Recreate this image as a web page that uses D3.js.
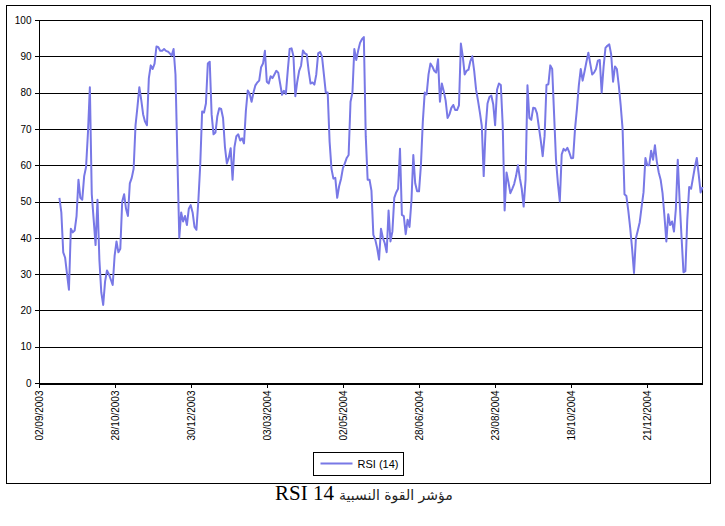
<!DOCTYPE html>
<html>
<head>
<meta charset="utf-8">
<script src="https://cdn.jsdelivr.net/npm/d3@7"></script>
<style>
  body { margin: 0; background: #fff; }
  svg { display: block; }
  .axis text { font-family: "Liberation Sans", Arial, sans-serif; font-size: 10px; fill: #000; }
  .axis path, .axis line { stroke: #000; shape-rendering: crispEdges; }
</style>
</head>
<body>
<div id="chart"></div>
<script>
// tick labels on the date axis, one every 40 trading days
const tickLabels = ["02/09/2003", "28/10/2003", "30/12/2003", "03/03/2004", "02/05/2004",
                    "28/06/2004", "23/08/2004", "18/10/2004", "21/12/2004"];
const labelStep = 40;
const dayCount = 350;      // trading days on the axis
const firstRsiDay = 11;    // RSI starts after the warm-up days

// RSI (14) values, one per trading day from firstRsiDay
const rsi14 = [
  51, 47, 36, 34.5, 30, 25.7, 42.5, 41.5, 42, 46,
  56, 51, 50.5, 57, 59.5, 69, 81.5, 52, 45, 38,
  50.5, 34, 25, 21.5, 28, 31, 30, 28.5, 27, 35,
  39, 36, 37, 50, 52, 48, 46, 55, 56.5, 59,
  71, 76, 81.5, 78, 74, 72, 71, 84, 87.5, 86.5,
  88, 92.7, 92.5, 91.5, 91.5, 92, 91.5, 91.3, 90.8, 90.2,
  92, 85, 62, 40, 47, 44.5, 46, 43.5, 48, 49,
  47, 43, 42.2, 50, 60, 74.8, 74.5, 77, 88, 88.5,
  74, 68.5, 69, 73.5, 75.7, 75.5, 73, 65, 60.5, 62,
  64.7, 56, 65, 68, 68.5, 66.8, 67.4, 66, 75, 80.6,
  79.6, 77.5, 80, 82, 82.8, 83.3, 87, 88, 91.5, 83,
  82.5, 84.5, 84, 85, 86, 85.5, 82.5, 79.4, 80.5, 79.6,
  86, 92, 92.2, 90, 79, 83, 86, 87.4, 91.6, 90.8,
  90.5, 86, 82.5, 82.8, 82.2, 85, 90.8, 91.2, 90, 85,
  80, 80, 66.5, 59, 56.3, 56.5, 51, 54.2, 56.2, 59.2,
  60.5, 62, 62.8, 77.5, 80, 92, 89, 91.5, 93.7, 94.7,
  95.3, 68, 56, 56, 53, 40.8, 39.5, 37.2, 34, 42.5,
  40, 38.5, 36, 47.5, 39, 41.7, 51, 52.5, 53.5, 64.5,
  46.3, 46, 41, 45, 43, 50, 62.8, 55, 52.8, 52.8,
  60, 72, 80, 79.5, 85, 88, 87.2, 86, 85.5, 89.2,
  77.5, 82.5, 80.4, 77.8, 73, 74, 75.8, 76.6, 75.2, 75.2,
  76.5, 93.5, 90, 85, 86, 86.3, 88.7, 90, 86, 80.8,
  77.8, 74.5, 70.8, 57, 70, 77, 78.8, 79.2, 76.8, 71,
  80.8, 82.5, 82.1, 71, 47.5, 58, 55.3, 52.3, 53.5, 54.8,
  57, 60, 56.4, 53.5, 48.6, 56, 82, 73, 72.5, 75.8,
  75.7, 74.3, 70.5, 66.8, 62.5, 68, 82.1, 82.3, 87.5, 86.5,
  74, 61.5, 55, 50, 63, 64.5, 64, 64.8, 63.5, 61.9,
  62, 70, 75.5, 82, 86.5, 83.3, 85.8, 88.5, 91, 88,
  85, 85.5, 86.5, 88.8, 89, 80, 87, 92.3, 92.9, 93.3,
  90.5, 83, 87.2, 86.5, 82, 76.5, 70, 52, 51.5, 47.5,
  42.7, 37, 30.3, 39.9, 42, 44.3, 48.5, 52.5, 62, 60,
  60, 64, 61.5, 65.5, 61, 58, 56, 52.3, 46, 39,
  46.5, 43.5, 44.5, 41.7, 48, 61.5, 50, 40, 30.5, 30.8,
  45, 54, 53.5, 56.5, 59.5, 62, 57.5, 52.5, 54
];
const yTicks = d3.range(0, 101, 10);

let W = 725, H = 526;
let margin = {top: 20, right: 22.5, bottom: 143, left: 38.5},
    width = W - margin.left - margin.right,
    height = H - margin.top - margin.bottom;

let svg = d3.select("#chart")
  .append("svg")
    .attr("width", W)
    .attr("height", H);

// outer chart border
svg.append("rect")
  .attr("x", 6.5)
  .attr("y", 5.5)
  .attr("width", 704)
  .attr("height", 478)
  .attr("fill", "#fff")
  .attr("stroke", "#000")
  .attr("shape-rendering", "crispEdges");

let g = svg.append("g")
  .attr("transform", "translate(" + margin.left + "," + margin.top + ")");

let x = d3.scaleLinear()
  .domain([0, dayCount - 1])
  .range([0, width]);

let y = d3.scaleLinear()
  .domain([0, 100])
  .range([height, 0]);

// grid lines
g.selectAll("line.grid")
  .data(yTicks)
  .enter()
  .append("line")
    .attr("class", "grid")
    .attr("x1", 0)
    .attr("x2", width)
    .attr("y1", d => Math.round(y(d)) + 0.5)
    .attr("y2", d => Math.round(y(d)) + 0.5)
    .attr("stroke", "#000")
    .attr("shape-rendering", "crispEdges");

// right border of plot area
g.append("line")
  .attr("x1", width).attr("x2", width)
  .attr("y1", y(100)).attr("y2", y(0))
  .attr("stroke", "#000")
  .attr("shape-rendering", "crispEdges");

// Y axis
g.append("g")
  .attr("class", "axis")
  .call(d3.axisLeft(y).tickValues(yTicks).tickSize(4).tickSizeOuter(0).tickPadding(3));

// X axis
let tickIdx = tickLabels.map((t, i) => i * labelStep);
g.append("g")
  .attr("class", "axis")
  .attr("transform", "translate(0," + (Math.round(height) + 0.5) + ")")
  .call(d3.axisBottom(x)
    .tickValues(tickIdx)
    .tickFormat((d, i) => tickLabels[i])
    .tickSize(4)
    .tickSizeOuter(0))
  .selectAll("text")
    .attr("transform", "rotate(-90)")
    .attr("x", -7)
    .attr("y", 0)
    .attr("dy", "0.35em")
    .style("text-anchor", "end");

// RSI line
let points = rsi14.map((v, i) => ({day: firstRsiDay + i, value: v}));
let line = d3.line()
  .x(d => x(d.day))
  .y(d => y(d.value));

g.append("path")
  .datum(points)
  .attr("fill", "none")
  .attr("stroke", "#7878e6")
  .attr("stroke-width", 2)
  .attr("stroke-linejoin", "round")
  .attr("d", line);

// legend
let legend = svg.append("g")
  .attr("transform", "translate(313.5,452.5)");

legend.append("rect")
  .attr("width", 90)
  .attr("height", 23)
  .attr("fill", "#fff")
  .attr("stroke", "#000")
  .attr("shape-rendering", "crispEdges");

legend.append("line")
  .attr("x1", 7).attr("x2", 39)
  .attr("y1", 11).attr("y2", 11)
  .attr("stroke", "#7878e6")
  .attr("stroke-width", 2);

legend.append("text")
  .attr("x", 44)
  .attr("y", 15)
  .style("font-family", "'Liberation Sans', Arial, sans-serif")
  .style("font-size", "11px")
  .text("RSI (14)");

// title under the chart
svg.append("text")
  .attr("x", 334)
  .attr("y", 500)
  .attr("text-anchor", "end")
  .style("font-family", "'Liberation Serif', 'Times New Roman', serif")
  .style("font-size", "21px")
  .text("RSI 14");

svg.append("text")
  .attr("x", 339)
  .attr("y", 500)
  .attr("text-anchor", "start")
  .style("font-family", "'DejaVu Sans', sans-serif")
  .style("font-size", "14px")
  .style("fill", "#222")
  .text("مؤشر القوة النسبية");
</script>
</body>
</html>
